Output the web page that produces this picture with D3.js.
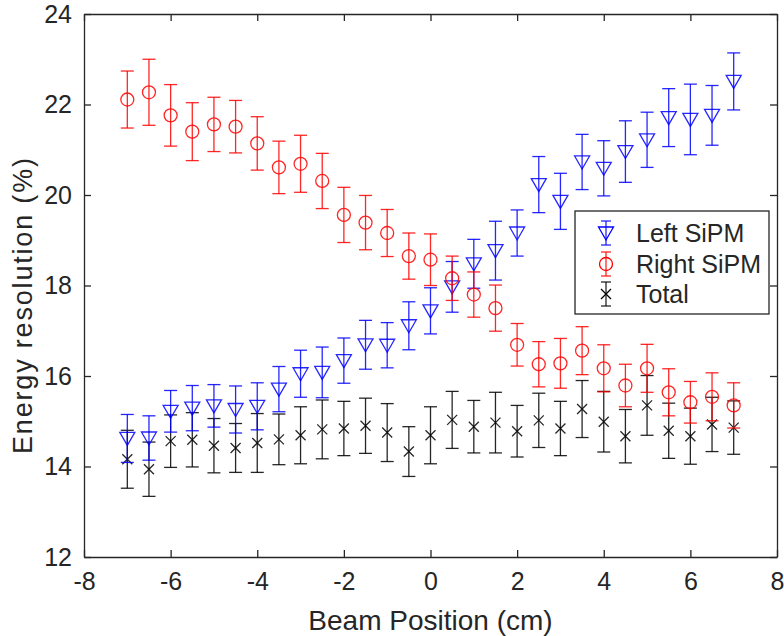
<!DOCTYPE html>
<html>
<head>
<meta charset="utf-8">
<script src="https://cdn.jsdelivr.net/npm/d3@7"></script>
<style>
  html, body { margin: 0; padding: 0; background: #fff; }
  svg { display: block; }
  text { font-family: "Liberation Sans", Arial, sans-serif; fill: #262626; }
</style>
</head>
<body>
<svg id="chart" width="784" height="636"></svg>
<script>
// ---- data ----
const positions = [-7,-6.5,-6,-5.5,-5,-4.5,-4,-3.5,-3,-2.5,-2,-1.5,-1,-0.5,0,0.5,1,1.5,2,2.5,3,3.5,4,4.5,5,5.5,6,6.5,7];
const leftSiPM = [14.62,14.63,15.22,15.29,15.34,15.26,15.33,15.71,16.05,16.08,16.34,16.69,16.68,17.11,17.44,17.97,18.48,18.77,19.16,20.23,19.86,20.73,20.59,20.96,21.22,21.71,21.67,21.76,22.51];
const leftErr  = [0.53,0.49,0.46,0.50,0.47,0.52,0.52,0.50,0.52,0.56,0.50,0.54,0.50,0.53,0.51,0.56,0.54,0.65,0.51,0.62,0.62,0.61,0.61,0.68,0.61,0.64,0.78,0.66,0.63];
const rightSiPM = [22.11,22.27,21.76,21.40,21.56,21.51,21.14,20.61,20.69,20.31,19.56,19.39,19.16,18.65,18.57,18.16,17.80,17.50,16.69,16.26,16.28,16.56,16.17,15.79,16.17,15.64,15.42,15.54,15.35];
const rightErr  = [0.63,0.73,0.68,0.64,0.60,0.58,0.59,0.58,0.63,0.61,0.61,0.60,0.52,0.51,0.57,0.49,0.50,0.51,0.47,0.50,0.55,0.53,0.52,0.47,0.53,0.52,0.46,0.53,0.50];
const total    = [14.16,13.94,14.56,14.59,14.46,14.41,14.52,14.60,14.69,14.82,14.84,14.90,14.75,14.33,14.69,15.03,14.88,14.97,14.78,15.02,14.84,15.27,14.99,14.67,15.35,14.79,14.67,14.93,14.86];
const totalErr = [0.64,0.60,0.58,0.60,0.60,0.54,0.65,0.56,0.63,0.65,0.60,0.61,0.64,0.55,0.63,0.63,0.58,0.67,0.57,0.60,0.60,0.63,0.67,0.59,0.66,0.61,0.62,0.60,0.59];
const xTicks = [-8,-6,-4,-2,0,2,4,6,8];
const yTicks = [12,14,16,18,20,22,24];
const seriesNames = ["Left SiPM","Right SiPM","Total"];
const seriesColors = ["#0000ff","#ff0000","#000000"];
const xLabel = "Beam Position (cm)";
const yLabel = "Energy resolution (%)";

// ---- layout ----
const L = 84, R = 777, T = 14, B = 557;
const svg = d3.select("#chart");
const x = d3.scaleLinear().domain([-8, 8]).range([L, R]);
const y = d3.scaleLinear().domain([12, 24]).range([B, T]);
const axisColor = "#262626";

svg.append("rect").attr("x", L).attr("y", T).attr("width", R - L).attr("height", B - T)
  .attr("fill", "#fff").attr("stroke", "none");

function styleAxis(g) {
  g.selectAll("path").attr("stroke", axisColor).attr("stroke-width", 1.3);
  g.selectAll("line").attr("stroke", axisColor).attr("stroke-width", 1.3);
  g.selectAll("text").attr("fill", axisColor)
    .style("font-family", '"Liberation Sans", Arial, sans-serif').style("font-size", "25px");
}
const gx = svg.append("g").attr("transform", `translate(0,${B})`)
  .call(d3.axisBottom(x).tickValues(xTicks).tickSize(-7).tickSizeOuter(0).tickPadding(15).tickFormat(d => String(d)));
styleAxis(gx);
gx.selectAll("text").attr("dy", "0.71em");
const gy = svg.append("g").attr("transform", `translate(${L},0)`)
  .call(d3.axisLeft(y).tickValues(yTicks).tickSize(-7).tickSizeOuter(0).tickPadding(12).tickFormat(d => String(d)));
styleAxis(gy);
const gxt = svg.append("g").attr("transform", `translate(0,${T})`)
  .call(d3.axisTop(x).tickValues(xTicks).tickSize(-7).tickSizeOuter(0).tickFormat(""));
styleAxis(gxt);
const gyr = svg.append("g").attr("transform", `translate(${R},0)`)
  .call(d3.axisRight(y).tickValues(yTicks).tickSize(-7).tickSizeOuter(0).tickFormat(""));
styleAxis(gyr);

// axis labels
svg.append("text").attr("x", (L + R) / 2).attr("y", 630).attr("text-anchor", "middle")
  .style("font-size", "28px").text(xLabel);
svg.append("text").attr("transform", `translate(32,306) rotate(-90)`)
  .attr("text-anchor", "middle").style("font-size", "27px")
  .attr("textLength", 296).attr("lengthAdjust", "spacing").text(yLabel);

// ---- series drawing ----
const cap = 6.5;
function errorBars(g, vals, errs, color) {
  const sel = g.selectAll("g.eb").data(positions.map((p, i) => ({p, v: vals[i], e: errs[i]})))
    .enter().append("g").attr("class", "eb");
  sel.append("line").attr("x1", d => x(d.p)).attr("x2", d => x(d.p))
    .attr("y1", d => y(d.v - d.e)).attr("y2", d => y(d.v + d.e));
  sel.append("line").attr("x1", d => x(d.p) - cap).attr("x2", d => x(d.p) + cap)
    .attr("y1", d => y(d.v + d.e)).attr("y2", d => y(d.v + d.e));
  sel.append("line").attr("x1", d => x(d.p) - cap).attr("x2", d => x(d.p) + cap)
    .attr("y1", d => y(d.v - d.e)).attr("y2", d => y(d.v - d.e));
  sel.selectAll("line").attr("stroke", color).attr("stroke-width", 1.3).attr("stroke-opacity", 0.85);
  return sel;
}
function triPath(cx, cy) {
  return `M${cx - 7.5},${cy - 6} L${cx + 7.5},${cy - 6} L${cx},${cy + 7} Z`;
}
function xPath(cx, cy) {
  const s = 5;
  return `M${cx - s},${cy - s} L${cx + s},${cy + s} M${cx - s},${cy + s} L${cx + s},${cy - s}`;
}

const plot = svg.append("g");
const gT = plot.append("g");
errorBars(gT, total, totalErr, seriesColors[2]);
gT.selectAll("path.m").data(positions.map((p, i) => ({p, v: total[i]}))).enter().append("path")
  .attr("d", d => xPath(x(d.p), y(d.v))).attr("fill", "none").attr("stroke", seriesColors[2])
  .attr("stroke-width", 1.3).attr("stroke-opacity", 0.85);

const gL = plot.append("g");
errorBars(gL, leftSiPM, leftErr, seriesColors[0]);
gL.selectAll("path.m").data(positions.map((p, i) => ({p, v: leftSiPM[i]}))).enter().append("path")
  .attr("d", d => triPath(x(d.p), y(d.v))).attr("fill", "none").attr("stroke", seriesColors[0])
  .attr("stroke-width", 1.3).attr("stroke-opacity", 0.85);

const gR = plot.append("g");
errorBars(gR, rightSiPM, rightErr, seriesColors[1]);
gR.selectAll("circle.m").data(positions.map((p, i) => ({p, v: rightSiPM[i]}))).enter().append("circle")
  .attr("cx", d => x(d.p)).attr("cy", d => y(d.v)).attr("r", 6.5)
  .attr("fill", "none").attr("stroke", seriesColors[1]).attr("stroke-width", 1.3).attr("stroke-opacity", 0.85);

// ---- legend ----
const lg = svg.append("g");
lg.append("rect").attr("x", 575).attr("y", 211).attr("width", 194).attr("height", 103)
  .attr("fill", "#fff").attr("stroke", axisColor).attr("stroke-width", 1.3);
const rowsY = [233, 264, 294];
const ix = 606;
seriesNames.forEach((name, i) => {
  const cy = rowsY[i], c = seriesColors[i];
  const g = lg.append("g");
  g.append("line").attr("x1", ix).attr("x2", ix).attr("y1", cy - 12).attr("y2", cy + 12);
  g.append("line").attr("x1", ix - 5).attr("x2", ix + 5).attr("y1", cy - 12).attr("y2", cy - 12);
  g.append("line").attr("x1", ix - 5).attr("x2", ix + 5).attr("y1", cy + 12).attr("y2", cy + 12);
  g.selectAll("line").attr("stroke", c).attr("stroke-width", 1.3).attr("stroke-opacity", 0.85);
  if (i === 0) g.append("path").attr("d", triPath(ix, cy)).attr("fill", "none").attr("stroke", c).attr("stroke-width", 1.3);
  if (i === 1) g.append("circle").attr("cx", ix).attr("cy", cy).attr("r", 6.5).attr("fill", "none").attr("stroke", c).attr("stroke-width", 1.3);
  if (i === 2) g.append("path").attr("d", xPath(ix, cy)).attr("fill", "none").attr("stroke", c).attr("stroke-width", 1.3);
  g.append("text").attr("x", 636).attr("y", cy).attr("dy", "0.35em")
    .style("font-size", "25px").attr("fill", "#000").text(name);
});
</script>
</body>
</html>
